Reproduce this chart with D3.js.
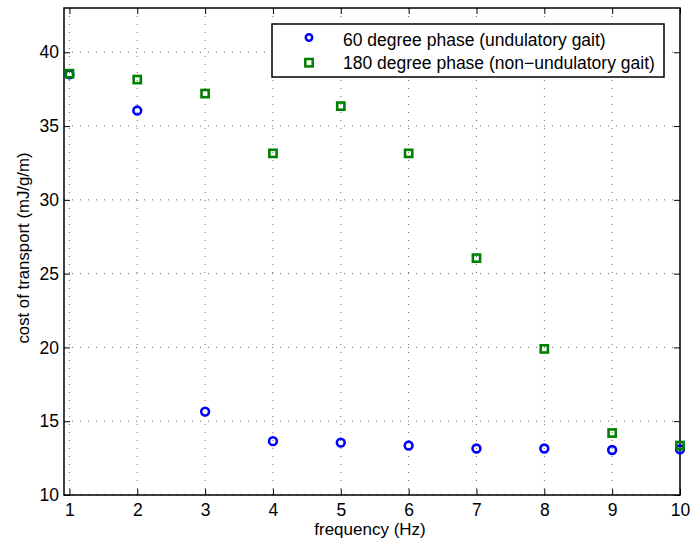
<!DOCTYPE html>
<html>
<head>
<meta charset="utf-8">
<script src="https://cdn.jsdelivr.net/npm/d3@7"></script>
<style>
  body { margin: 0; background: #fff; }
  text { font-family: "Liberation Sans", Arial, sans-serif; }
</style>
</head>
<body>
<div id="chart"></div>
<script>
// data
const freq = [1, 2, 3, 4, 5, 6, 7, 8, 9, 10];
const phase60 = [38.5, 36.05, 15.65, 13.65, 13.55, 13.35, 13.15, 13.15, 13.05, 13.1];
const phase180 = [38.55, 38.15, 37.2, 33.15, 36.35, 33.15, 26.05, 19.9, 14.2, 13.35];
const xTicks = [1, 2, 3, 4, 5, 6, 7, 8, 9, 10];
const yTicks = [10, 15, 20, 25, 30, 35, 40];
const seriesNames = ["60 degree phase (undulatory gait)", "180 degree phase (non\u2212undulatory gait)"];

const width = 691, height = 544;
const mLeft = 64, mRight = 680, mTop = 8, mBottom = 495;

const svg = d3.select("#chart").append("svg")
    .attr("width", width)
    .attr("height", height);

const x = d3.scaleLinear().domain([0.92, 10]).range([mLeft, mRight]);
const y = d3.scaleLinear().domain([10, 43]).range([mBottom, mTop]);

// grid
const grid = svg.append("g");
xTicks.forEach(t => {
    grid.append("line")
        .attr("x1", x(t)).attr("x2", x(t))
        .attr("y1", mTop).attr("y2", mBottom)
        .attr("stroke", "#666").attr("stroke-width", 1)
        .attr("stroke-dasharray", "1,7");
});
yTicks.forEach(t => {
    grid.append("line")
        .attr("x1", mLeft).attr("x2", mRight)
        .attr("y1", y(t)).attr("y2", y(t))
        .attr("stroke", "#666").attr("stroke-width", 1)
        .attr("stroke-dasharray", "1,7");
});

// axes, inward ticks on all four sides
svg.append("g").attr("transform", `translate(0,${mBottom})`)
    .call(d3.axisBottom(x).tickValues(xTicks).tickSizeInner(-6).tickSizeOuter(0).tickPadding(9))
    .call(g => g.select(".domain").remove());
svg.append("g").attr("transform", `translate(0,${mTop})`)
    .call(d3.axisTop(x).tickValues(xTicks).tickSizeInner(-6).tickSizeOuter(0).tickFormat(""))
    .call(g => g.select(".domain").remove());
svg.append("g").attr("transform", `translate(${mLeft},0)`)
    .call(d3.axisLeft(y).tickValues(yTicks).tickSizeInner(-6).tickSizeOuter(0).tickPadding(5))
    .call(g => g.select(".domain").remove());
svg.append("g").attr("transform", `translate(${mRight},0)`)
    .call(d3.axisRight(y).tickValues(yTicks).tickSizeInner(-6).tickSizeOuter(0).tickFormat(""))
    .call(g => g.select(".domain").remove());

svg.selectAll(".tick line").attr("stroke", "#000");
svg.selectAll(".tick text").attr("font-size", 17.5).attr("fill", "#000")
    .style("font-family", "'Liberation Sans', Arial, sans-serif");

svg.append("rect")
    .attr("x", mLeft).attr("y", mTop)
    .attr("width", mRight - mLeft).attr("height", mBottom - mTop)
    .attr("fill", "none").attr("stroke", "#000").attr("stroke-width", 1.5);

// markers
svg.append("g").selectAll("circle").data(freq).join("circle")
    .attr("cx", (d, i) => x(d))
    .attr("cy", (d, i) => y(phase60[i]))
    .attr("r", 3.9)
    .attr("fill", "none").attr("stroke", "#0000ff").attr("stroke-width", 2.6);

svg.append("g").selectAll("rect").data(freq).join("rect")
    .attr("x", (d, i) => x(d) - 3.6)
    .attr("y", (d, i) => y(phase180[i]) - 3.6)
    .attr("width", 7.2).attr("height", 7.2)
    .attr("fill", "none").attr("stroke", "#008000").attr("stroke-width", 2.6);

// labels
svg.append("text")
    .attr("x", 370).attr("y", 535)
    .attr("text-anchor", "middle").attr("font-size", 17)
    .text("frequency (Hz)");
svg.append("text")
    .attr("transform", `translate(29,248) rotate(-90)`)
    .attr("text-anchor", "middle").attr("font-size", 16.8)
    .text("cost of transport (mJ/g/m)");

// legend
const legend = svg.append("g");
legend.append("rect")
    .attr("x", 272).attr("y", 24).attr("width", 392).attr("height", 53)
    .attr("fill", "#fff").attr("stroke", "#000").attr("stroke-width", 1.5);
legend.append("circle")
    .attr("cx", 309).attr("cy", 37.5).attr("r", 3.2)
    .attr("fill", "none").attr("stroke", "#0000ff").attr("stroke-width", 2.5);
legend.append("rect")
    .attr("x", 305.3).attr("y", 59).attr("width", 7.4).attr("height", 7.4)
    .attr("fill", "none").attr("stroke", "#008000").attr("stroke-width", 2.5);
seriesNames.forEach((s, i) => {
    legend.append("text")
        .attr("x", 343).attr("y", 46 + i * 23)
        .attr("font-size", 17.5)
        .text(s);
});
</script>
</body>
</html>
